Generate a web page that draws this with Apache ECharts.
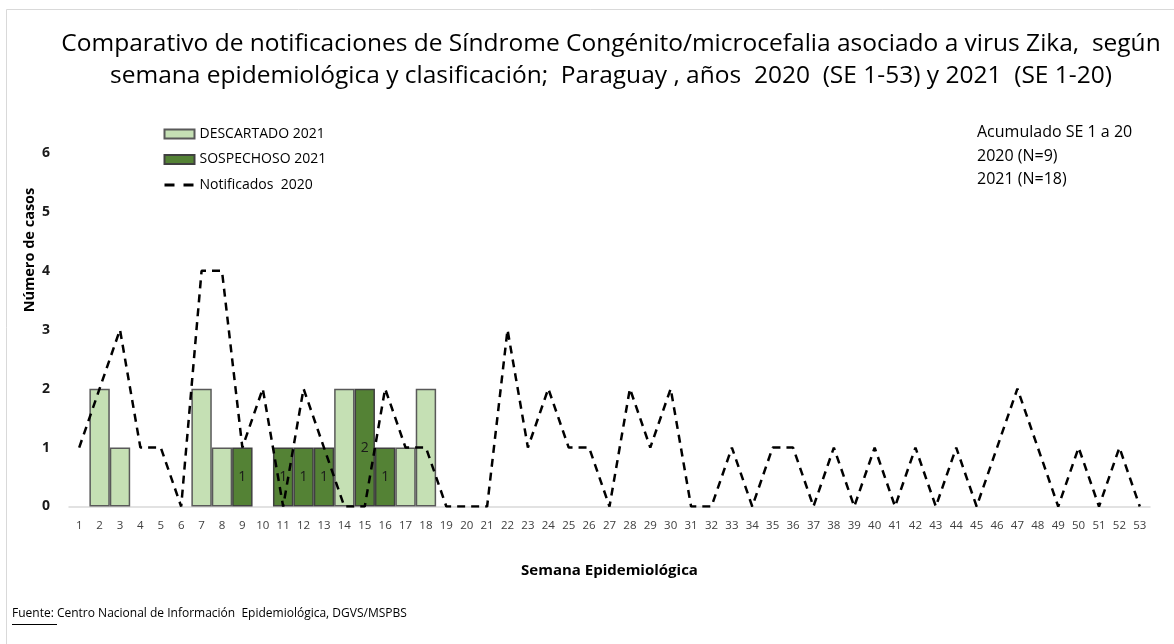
<!DOCTYPE html>
<html lang="es">
<head>
    <meta charset="UTF-8">
    <title>Zika SE 2020-2021</title>
    <script src="https://cdn.jsdelivr.net/npm/echarts@6/dist/echarts.min.js"></script>
    <style>
        html, body { margin: 0; padding: 0; background: #fff; }
    </style>
</head>
<body>

    <div id="main" style="width: 1174px;height:644px;"></div>

    <script type="text/javascript">
        // semanas epidemiologicas 1..53
        var semanas = [];
        for (var i = 1; i <= 53; i++) semanas.push(String(i));

        // 2021, casos descartados por semana (null = sin barra)
        var descartado2021 = [null, 2, 1, null, null, null, 2, 1, null, null,
            null, null, null, 2, null, null, 1, 2];
        // 2021, casos sospechosos por semana
        var sospechoso2021 = [null, null, null, null, null, null, null, null, 1, null,
            1, 1, 1, null, 2, 1, null, null];
        // notificados 2020, SE 1-53
        var notificados2020 = [1, 2, 3, 1, 1, 0, 4, 4, 1, 2,
            0, 2, 1, 0, 0, 2, 1, 1, 0, 0,
            0, 3, 1, 2, 1, 1, 0, 2, 1, 2,
            0, 0, 1, 0, 1, 1, 0, 1, 0, 1,
            0, 1, 0, 1, 0, 1, 2, 1, 0, 1,
            0, 1, 0];

        var yTicks = [0, 1, 2, 3, 4, 5, 6];

        var fuente = '"Open Sans", sans-serif';

        var myChart = echarts.init(document.getElementById('main'));

        var option = {
            backgroundColor: '#fff',
            animation: false,
            textStyle: { fontFamily: fuente },
            title: {
                text: 'Comparativo de notificaciones de Síndrome Congénito/microcefalia asociado a virus Zika,  según\nsemana epidemiológica y clasificación;  Paraguay , años  2020  (SE 1-53) y 2021  (SE 1-20)',
                left: 606,
                top: 23,
                textAlign: 'center',
                textStyle: {
                    fontFamily: fuente,
                    fontSize: 24.5,
                    fontWeight: 'normal',
                    color: '#000',
                    lineHeight: 32
                }
            },
            legend: {
                orient: 'vertical',
                left: 158,
                top: 122,
                itemWidth: 30,
                itemHeight: 9,
                itemGap: 11.5,
                textStyle: { fontSize: 14, color: '#000', fontFamily: fuente },
                data: [
                    { name: 'DESCARTADO 2021', icon: 'rect' },
                    { name: 'SOSPECHOSO 2021', icon: 'rect' },
                    { name: 'Notificados  2020', itemStyle: { opacity: 0 }, lineStyle: { type: [10, 9], width: 3 } }
                ]
            },
            grid: {
                left: 69,
                top: 153,
                width: 1081,
                height: 353.5
            },
            xAxis: {
                type: 'category',
                data: semanas,
                axisTick: { show: false },
                axisLine: { lineStyle: { color: '#d9d9d9', width: 1.5 } },
                axisLabel: { fontSize: 11.5, color: '#404040', margin: 13, interval: 0 },
                name: 'Semana Epidemiológica',
                nameLocation: 'middle',
                nameGap: 57,
                nameTextStyle: { fontSize: 15, fontWeight: 'bold', color: '#000' }
            },
            yAxis: {
                type: 'value',
                min: yTicks[0],
                max: yTicks[yTicks.length - 1],
                interval: 1,
                splitLine: { show: false },
                axisLine: { show: false },
                axisTick: { show: false },
                axisLabel: { fontSize: 14, fontWeight: 'bold', color: '#1a1a1a', margin: 19 }
            },
            graphic: [
                {
                    type: 'rect',
                    shape: { x: 6.5, y: 9.5, width: 1200, height: 700 },
                    style: { fill: null, stroke: '#d9d9d9', lineWidth: 1 },
                    silent: true
                },
                {
                    type: 'text',
                    x: 30,
                    y: 250,
                    rotation: Math.PI / 2,
                    style: {
                        text: 'Número de casos',
                        font: 'bold 14.5px ' + fuente,
                        fill: '#000',
                        align: 'center',
                        verticalAlign: 'middle'
                    }
                },
                {
                    type: 'text',
                    left: 977,
                    top: 121,
                    style: {
                        text: 'Acumulado SE 1 a 20\n2020 (N=9)\n2021 (N=18)',
                        font: '16px ' + fuente,
                        fill: '#000',
                        lineHeight: 23.5
                    }
                },
                {
                    type: 'text',
                    left: 12,
                    top: 608,
                    style: {
                        text: 'Fuente: Centro Nacional de Información  Epidemiológica, DGVS/MSPBS',
                        font: '12px ' + fuente,
                        fill: '#000'
                    }
                },
                {
                    type: 'line',
                    shape: { x1: 12, y1: 624.5, x2: 57, y2: 624.5 },
                    style: { stroke: '#000', lineWidth: 1 }
                }
            ],
            series: [
                {
                    name: 'DESCARTADO 2021',
                    type: 'bar',
                    stack: 'casos',
                    barWidth: '100%',
                    data: descartado2021,
                    itemStyle: { color: '#c5e0b4', borderColor: '#595959', borderWidth: 1.5 }
                },
                {
                    name: 'SOSPECHOSO 2021',
                    type: 'bar',
                    stack: 'casos',
                    barWidth: '100%',
                    data: sospechoso2021,
                    itemStyle: { color: '#548235', borderColor: '#404040', borderWidth: 1.5 },
                    label: {
                        show: true,
                        position: 'inside',
                        fontSize: 14,
                        color: '#1a1a1a',
                        fontFamily: fuente
                    }
                },
                {
                    name: 'Notificados  2020',
                    type: 'line',
                    data: notificados2020,
                    symbol: 'none',
                    z: 5,
                    lineStyle: { color: '#000', width: 2.5, type: [8, 6] },
                    itemStyle: { color: '#000' }
                }
            ]
        };

        myChart.setOption(option);
    </script>
</body>
</html>
